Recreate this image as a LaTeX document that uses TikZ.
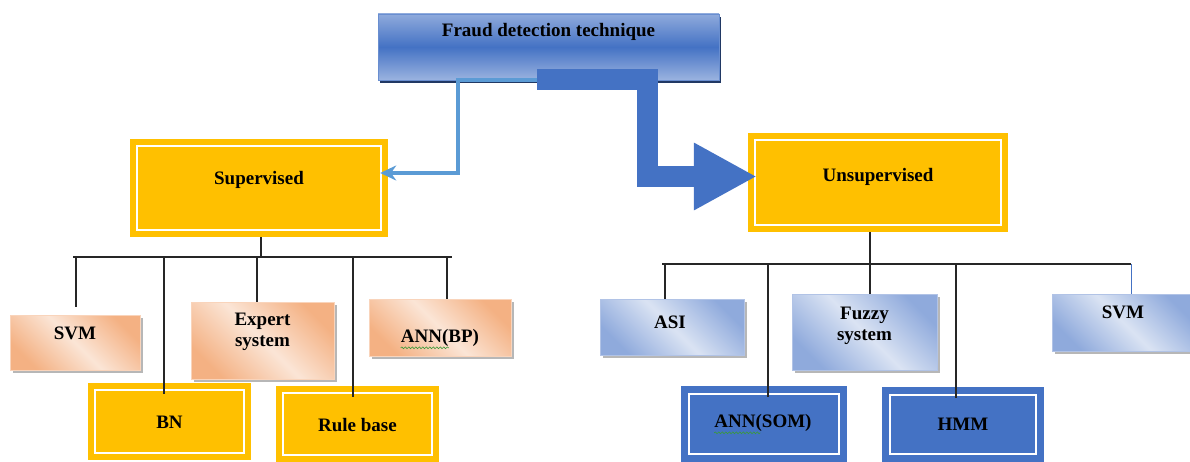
\documentclass[tikz,border=0pt]{standalone}
\usepackage{fontspec}
\setmainfont{Liberation Serif}
\usetikzlibrary{arrows.meta,shadows,decorations.pathmorphing}
\definecolor{gold}{HTML}{FFC000}
\definecolor{bluemain}{HTML}{4472C4}
\definecolor{bluelight}{HTML}{8FAADC}
\definecolor{bluepale}{HTML}{DAE3F3}
\definecolor{bluearrow}{HTML}{5B9BD5}
\definecolor{salmon}{HTML}{F4B183}
\definecolor{salmonpale}{HTML}{FBE5D6}
\definecolor{navy}{HTML}{203864}
\definecolor{linegray}{HTML}{262626}
\definecolor{spellgreen}{HTML}{3A9A3A}
\begin{document}
\begin{tikzpicture}[x=1pt,y=-1pt,
  lbl/.style={font=\bfseries\fontsize{19}{21}\selectfont, inner sep=0pt, align=center, text=black},
  box/.style 2 args={minimum width=#1pt, minimum height=#2pt, inner sep=0pt},
  insetframe/.style={path picture={\draw[white,line width=2.5pt]
      ([shift={(#1,-#1)}]path picture bounding box.north west) rectangle
      ([shift={(-#1,#1)}]path picture bounding box.south east);}},
  goldbox/.style={fill=gold, draw=none, insetframe=7pt},
  darkbox/.style={fill=bluemain, draw=none, insetframe=8pt},
  boxshadow/.style={drop shadow={shadow xshift=3pt, shadow yshift=-3pt, fill=black!40, opacity=0.7}},
  salbox/.style={boxshadow, draw=salmon!55, line width=0.6pt, left color=salmon, right color=salmon, middle color=salmonpale, shading angle=-45},
  bluebox/.style={boxshadow, draw=bluelight!70, line width=0.6pt, left color=bluelight, right color=bluelight, middle color=bluepale, shading angle=-45},
  topbox/.style={drop shadow={shadow xshift=2pt, shadow yshift=-3pt, fill=navy, opacity=1}, draw=bluemain!80, line width=0.6pt, top color=bluelight, bottom color=bluelight!90, middle color=bluemain},
  tree/.style={draw=linegray, line width=1.4pt},
  thinarrow/.style={draw=bluearrow, line width=3.2pt, -{Stealth[length=16pt,width=15pt]}},
  thickarrow/.style={draw=bluemain, line width=21pt, line join=miter, -{Triangle[length=63pt,width=63pt]}},
  squiggle/.style={draw=spellgreen, line width=0.6pt, decorate, decoration={snake, amplitude=0.9pt, segment length=3.5pt}}
]
\useasboundingbox (0,0) rectangle (1190,462);
\clip (0,0) rectangle (1190,462);

% boxes
\node[topbox, box={341}{66}] (top) at (548.5,47) {};
\node[goldbox, box={258}{98}] (sup) at (259,188) {};
\node[goldbox, box={260}{99}] (uns) at (878,182.5) {};

\node[salbox, box={130}{55}] (svmL) at (75,342.5) {};
\node[salbox, box={143}{77}] (exp) at (262.5,340.5) {};
\node[salbox, box={142}{57}] (annbp) at (440,327.5) {};
\node[goldbox, box={163}{77}] (bn) at (169.5,421.5) {};
\node[goldbox, box={163}{76}] (rule) at (357.5,424) {};

\node[bluebox, box={144}{56}] (asi) at (672,327) {};
\node[bluebox, box={145}{76}] (fuz) at (864.5,332) {};
\node[bluebox, box={143}{57}] (svmR) at (1123.5,322.5) {};
\node[darkbox, box={166}{76}] (som) at (764,424) {};
\node[darkbox, box={162}{75}] (hmm) at (963,424.5) {};

% arrows from the top box
\coordinate (sA) at (537,80);
\draw[thinarrow] (sA) -| (458,173) -- ([xshift=-8pt,yshift=15pt]sup.east);
\draw[thickarrow] (sA) -| (647.5,176.5) -- ([xshift=9pt,yshift=6pt]uns.west);

% left tree
\coordinate (busL1) at (73,257);
\coordinate (busL2) at (452,257);
\draw[tree] ([xshift=2pt]sup.south) -- ([xshift=2pt]sup.south |- busL1);
\draw[tree] (busL1) -- (busL2);
\draw[tree] ([xshift=1pt,yshift=8pt]svmL.north) |- (busL1);
\draw[tree] ([xshift=-5.5pt,yshift=-11pt]bn.north) |- (busL1);
\draw[tree] ([xshift=-5.5pt]exp.north) |- (busL1);
\draw[tree] ([xshift=-4.5pt,yshift=-11pt]rule.north) |- (busL1);
\draw[tree] ([xshift=7pt]annbp.north) |- (busL1);

% right tree
\coordinate (busR1) at (662,264);
\coordinate (busR2) at (1131,264);
\draw[tree] ([xshift=-8pt]uns.south) -- ([xshift=5.5pt]fuz.north);
\draw[tree] (busR1) -- (busR2);
\draw[tree] ([xshift=-7pt]asi.north) |- (busR1);
\draw[tree] ([xshift=4pt,yshift=-11pt]som.north) |- (busR1);
\draw[tree] ([xshift=-7pt,yshift=-11pt]hmm.north) |- (busR1);
\draw[draw=bluemain, line width=1pt] ([xshift=7.5pt]svmR.north) -- (busR2);

% texts
\node[lbl] (tTop) at (548.5,32) {Fraud detection technique};
\node[lbl] (tSup) at (259,180) {Supervised};
\node[lbl] (tUns) at (878,177) {Unsupervised};
\node[lbl] (tSvmL) at (75,333) {SVM};
\node[lbl] (tExp) at (262.5,332) {Expert\\system};
\node[lbl] (tAnnbp) at (440,338) {ANN(BP)};
\node[lbl] (tBn) at (169.5,422) {BN};
\node[lbl] (tRule) at (357.5,425) {Rule base};
\node[lbl] (tAsi) at (670,322) {ASI};
\node[lbl] (tFuz) at (864.5,326) {Fuzzy\\system};
\node[lbl] (tSvmR) at (1123,312) {SVM};
\node[lbl] (tSom) at (763,423) {ANN(SOM)};
\node[lbl] (tHmm) at (963,424) {HMM};

% spell-check underlines
\draw[squiggle] ([yshift=-1pt]tAnnbp.south west) -- ++(48,0);
\draw[squiggle] ([yshift=-1pt]tSom.south west) -- ++(46,0);
\end{tikzpicture}
\end{document}
